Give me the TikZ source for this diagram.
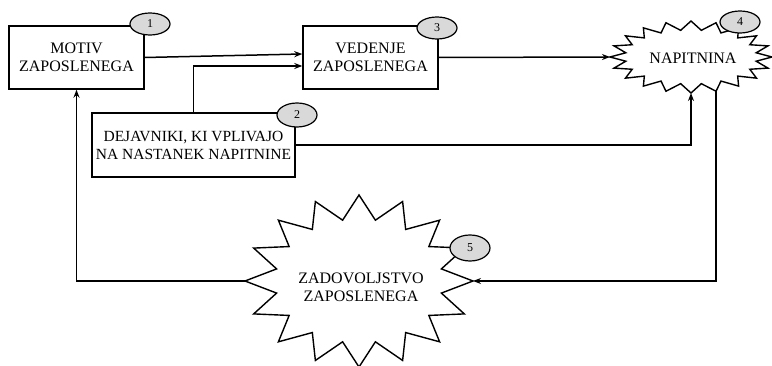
\documentclass[tikz,border=0pt]{standalone}
\usepackage{fontspec}
\setmainfont{Liberation Serif}
\usetikzlibrary{arrows.meta,calc,shapes.geometric}
\begin{document}
\begin{tikzpicture}[x=1pt,y=-1pt,
  box/.style={draw,line width=1.4pt,fill=white,minimum width=135pt,minimum height=63pt,inner sep=1pt,align=center,font=\fontsize{16}{18}\selectfont},
  badge/.style={draw,line width=1.2pt,fill=gray!30,ellipse,minimum width=40pt,minimum height=22pt,inner sep=0pt,font=\fontsize{12}{14}\selectfont},
  conn/.style={line width=1.5pt,-{Stealth[length=8pt,width=6pt]}},
  starline/.style={line width=1.4pt,fill=white,line join=miter},
  lbl/.style={align=center,font=\fontsize{16}{18}\selectfont}]
\useasboundingbox (0,0) rectangle (772,366);

% stars
\draw[starline,shift={(691,57)}] plot[samples at={0,1,...,39}]
  ({ifthenelse(mod(\x,2)==0,81,66)*cos(\x*9)},{ifthenelse(mod(\x,2)==0,36,27)*sin(\x*9)}) -- cycle;
\draw[starline,shift={(359,281)}] plot[samples at={0,1,...,31}]
  ({ifthenelse(mod(\x,2)==0,114,84)*cos(\x*11.25)},{ifthenelse(mod(\x,2)==0,86,62)*sin(\x*11.25)}) -- cycle;

\node[lbl] (nap) at (693,58) {NAPITNINA};
\node[lbl] (zad) at (361,287) {ZADOVOLJSTVO\\ZAPOSLENEGA};

\coordinate (nl) at (610,57);
\coordinate (nb) at (691,93);
\coordinate (nbr) at (716,91);
\coordinate (zl) at (245,281);
\coordinate (zr) at (473,281);

% boxes
\node[box] (b1) at (76.5,57.5) {MOTIV\\ZAPOSLENEGA};
\node[box] (b3) at (370.5,57.5) {VEDENJE\\ZAPOSLENEGA};
\node[box,minimum width=203pt,minimum height=64pt,font=\fontsize{15.5}{18}\selectfont] (b2) at (193.5,145) {DEJAVNIKI, KI VPLIVAJO\\NA NASTANEK NAPITNINE};

\coordinate (b3a) at ($(b3.west)+(0,-3.5)$);
\coordinate (b3b) at ($(b3.west)+(0,8.5)$);

% connectors
\draw[conn] (b1.east) -- (b3a);
\draw[conn] (b2.north) |- (b3b);
\draw[conn] (b3.east) -- (nl);
\draw[conn] (b2.east) -| (nb);
\draw[conn] (nbr) |- (zr);
\draw[conn] (zl) -| (b1.south);

% badges
\node[badge] (e1) at (150,24) {1};
\node[badge] (e3) at (437,28) {3};
\node[badge,minimum height=24pt] (e2) at (297,115) {2};
\node[badge] (e4) at (740,22) {4};
\node[badge,minimum height=26pt] (e5) at (470,248) {5};
\end{tikzpicture}
\end{document}
